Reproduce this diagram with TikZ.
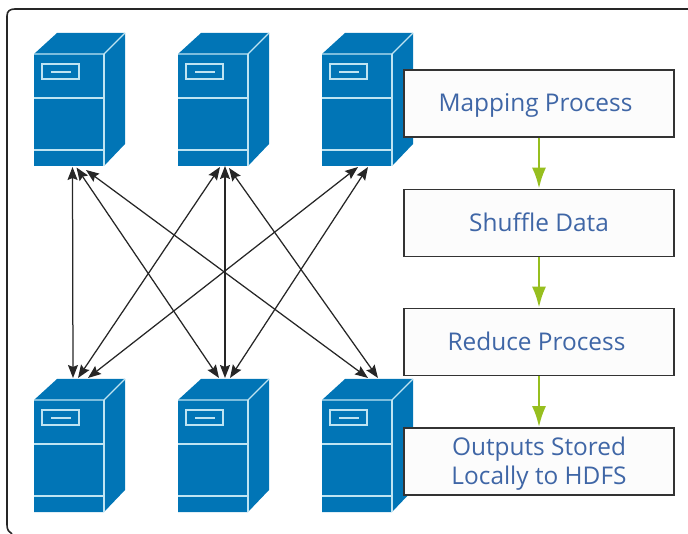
\documentclass[tikz,border=0pt]{standalone}
\usepackage{fontspec}
\setmainfont{Open Sans}
\usepackage{xcolor}
\usepackage{tikz}
\usetikzlibrary{arrows.meta}

\definecolor{serverblue}{HTML}{0175B6}
\definecolor{serverline}{HTML}{BFE4F2}
\definecolor{boxtext}{HTML}{3F66A6}
\definecolor{flowgreen}{HTML}{97BF1F}

\begin{document}
\begin{tikzpicture}[
      x=1pt, y=-1pt,
      frame/.style={
        draw=black!85,
        line width=1.6pt
      },
      trim/.style={
        draw=serverline,
        line width=1.3pt
      },
      server/.style={
        rectangle,
        inner sep=0pt,
        outer sep=0pt,
        minimum width=91pt,
        minimum height=133pt
      },
      stage/.style={
        draw=black!80,
        line width=1.5pt,
        rectangle,
        fill=black!1,
        text=boxtext,
        align=center,
        inner sep=0pt,
        text height=17pt,
        text depth=0pt,
        minimum width=270pt,
        minimum height=67pt,
        font=\fontsize{24.4}{28.5}\selectfont
      },
      link/.style={
        {Stealth[length=13pt,width=10pt,inset=2pt]}-{Stealth[length=13pt,width=10pt,inset=2pt]},
        line width=1.25pt,
        black!85
      },
      flow/.style={
        -{Latex[length=21pt,width=14pt]},
        line width=2.8pt,
        flowgreen
      }
      ]
        \useasboundingbox (0,0) rectangle (688,534);

        \draw[frame] (688,9) -- (15,9) .. controls (10,9) and (7,11) .. (7,16) -- (7,525) .. controls (7,530) and (9,532) .. (12,534);

        % Servers
        \foreach \n/\x/\y in {1/34/33, 2/178/33, 3/322/33, 4/34/379, 5/178/379, 6/322/379}{
          \begin{scope}[shift={(\x,\y)}]
            \node[server] (s\n) at (45.5,66.5) {};
            \fill[serverblue] (0,21) -- (23,0) -- (91,0) -- (91,111) -- (70,133) -- (0,133) -- cycle;
            \draw[trim] (0,21) -- (70,21) -- (91,0);
            \draw[trim] (70,21) -- (70,133);
            \draw[trim] (0,65) -- (70,65);
            \draw[trim] (0,117) -- (70,117);
            \draw[trim] (8,31) rectangle (45,46);
            \draw[trim] (17,39) -- (37,39);
          \end{scope}
        }

        % Links
        \foreach \a/\ax/\ay/\b/\bx in {
          1/-7/1/4/-6.5, 1/-3/1.5/5/-4.5, 1/6.5/4/6/0.5,
          2/-3.5/1/4/-1.5, 2/1.5/0/5/1.5, 2/5.5/2/6/10.5,
          3/-9.5/1/4/8.5, 3/0.5/1/5/6.5}{
          \draw[link] ([shift={(\ax,\ay)}]s\a.south) -- ([shift={(\bx,-1)}]s\b.north);
        }

        % Process
        \node[stage] (mapping) at (539,103.5) {Mapping Process\hspace*{7pt}};
        \node[stage] (shuffle) at (539,223) {Shuffle Data};
        \node[stage] (reduce) at (539,342) {Reduce Process\hspace*{5pt}};
        \node[stage, text height=45pt] (outputs) at (539,461.5) {Outputs Stored\\Locally to HDFS};
        \draw[flow] (mapping) -- (shuffle);
        \draw[flow] (shuffle) -- (reduce);
        \draw[flow] (reduce) -- (outputs);
    \end{tikzpicture}
\end{document}
